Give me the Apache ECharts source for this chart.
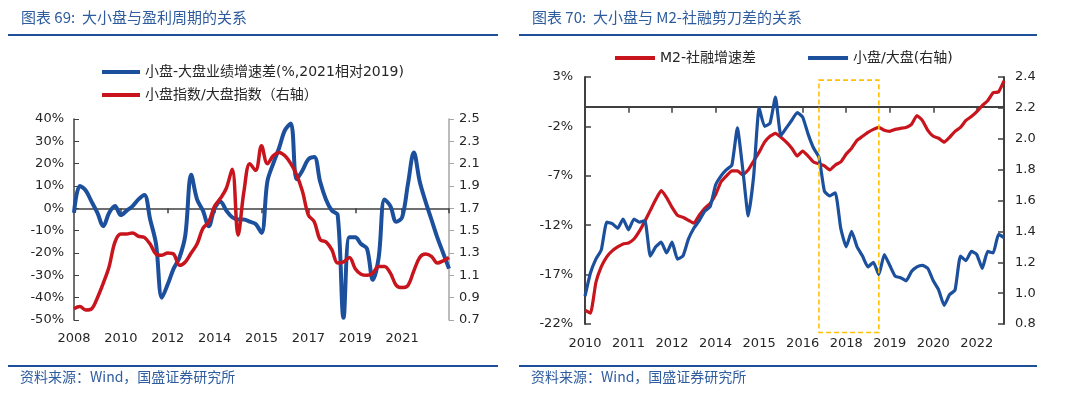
<!DOCTYPE html>
<html>
<head>
<meta charset="utf-8">
<script src="https://cdn.jsdelivr.net/npm/echarts/dist/echarts.min.js"></script>
<style>
  html, body { margin: 0; padding: 0; background: #fff; }
  #main { width: 1080px; height: 399px; }
</style>
</head>
<body>
<div id="main"></div>
<script>
// 图表69：大小盘与盈利周期
const labelsL = ['2008', '2010', '2012', '2014', '2015', '2017', '2019', '2021', ''];
const earnGap = [-2, 10, 8, 3, -2, -8, -2, 1, -3, -1,
  1, 4, 6, -5, -16, -40, -34, -27, -22, -12,
  15, 4, -1, -8, 0, 3, -1, -4, -5, -5,
  -6, -7, -11, 12, 20, 27, 35, 38, 13, 17,
  22, 23, 12, 4, -1, -3, -49, -13, -13, -16,
  -18, -32, -22, 4, 1, -6, -4, 11, 25, 12,
  3, -5, -13, -20, -27];
const smallBigL = [0.80, 0.82, 0.79, 0.80, 0.90, 1.03, 1.18, 1.40, 1.47, 1.47,
  1.48, 1.45, 1.44, 1.38, 1.29, 1.28, 1.30, 1.29, 1.19, 1.22,
  1.30, 1.38, 1.52, 1.58, 1.72, 1.79, 1.88, 2.05, 1.46, 1.85,
  2.10, 2.04, 2.26, 2.10, 2.17, 2.20, 2.17, 2.10, 2.00, 1.85,
  1.64, 1.58, 1.42, 1.40, 1.33, 1.21, 1.22, 1.26, 1.16, 1.11,
  1.10, 1.12, 1.18, 1.18, 1.12, 1.01, 0.99, 1.01, 1.14, 1.26,
  1.29, 1.27, 1.21, 1.23, 1.26];
const ticksL1 = [-50, -40, -30, -20, -10, 0, 10, 20, 30, 40];
const ticksL2 = [0.7, 0.9, 1.1, 1.3, 1.5, 1.7, 1.9, 2.1, 2.3, 2.5];

// 图表70：大小盘与M2-社融剪刀差
const labelsR = ['2010', '2011', '2012', '2014', '2015', '2016', '2018', '2019', '2020', '2022'];
const m2Gap = [-20.6, -20.9, -17.8, -16.2, -15.2, -14.6, -14.2, -13.9, -13.8, -13.4,
  -12.6, -11.6, -10.5, -9.4, -8.5, -9.2, -10.2, -11.0, -11.2, -11.5,
  -11.8, -11.0, -10.3, -9.8, -8.9, -7.6, -7.0, -6.5, -6.5, -6.9,
  -6.4, -5.5, -4.6, -3.6, -3.0, -2.7, -3.1, -3.6, -4.2, -5.0,
  -4.5, -5.0, -5.6, -5.8, -6.0, -6.4, -5.9, -5.6, -4.8, -4.2,
  -3.4, -3.0, -2.6, -2.3, -2.1, -2.4, -2.5, -2.3, -2.2, -2.1,
  -1.8, -0.9, -1.4, -2.4, -3.0, -3.2, -3.6, -3.1, -2.5, -2.1,
  -1.4, -1.0, -0.5, 0.1, 0.6, 1.4, 1.5, 2.6];
const smallBigR = [0.98, 1.13, 1.22, 1.28, 1.46, 1.45, 1.42, 1.48, 1.41, 1.48,
  1.46, 1.47, 1.24, 1.30, 1.33, 1.26, 1.33, 1.22, 1.24, 1.35,
  1.42, 1.47, 1.53, 1.56, 1.70, 1.76, 1.80, 1.83, 2.07, 1.80,
  1.50, 1.76, 2.20, 2.08, 2.10, 2.27, 2.02, 2.07, 2.12, 2.17,
  2.14, 2.03, 1.94, 1.88, 1.66, 1.63, 1.65, 1.42, 1.30, 1.40,
  1.30, 1.24, 1.17, 1.20, 1.12, 1.25, 1.18, 1.11, 1.10, 1.08,
  1.14, 1.17, 1.18, 1.16, 1.08, 1.02, 0.92, 0.99, 1.02, 1.24,
  1.21, 1.27, 1.25, 1.16, 1.27, 1.26, 1.38, 1.36];
const ticksR1 = [-22, -17, -12, -7, -2, 3];
const ticksR2 = [0.8, 1.0, 1.2, 1.4, 1.6, 1.8, 2.0, 2.2, 2.4];
// 黄框：2017-2018 区间（类目序号 / 右轴值）
const boxX = [43, 54];
const boxY = [2.38, 0.745];

const STEP = 8; // 每个年份标签之间的点数
const catsL = earnGap.map((v, i) => (i % STEP === 0 ? labelsL[i / STEP] : ''));
const catsR = m2Gap.map((v, i) => (i % STEP === 0 ? (labelsR[i / STEP] || '') : ''));

const BLUE = '#1c4f9c';
const RED = '#c8141c';
const DARK = '#404040';
const FONT = '"DejaVu Sans", "Noto Sans CJK SC", sans-serif';
const CJK = '"Noto Sans CJK SC", sans-serif';
const TXT = '#262626';
const HEAD = '#2e5c9e';
const RULE = '#1f4e9a';

const nameL1 = '小盘-大盘业绩增速差(%,2021相对2019)';
const nameL2 = '小盘指数/大盘指数（右轴）';
const nameR1 = 'M2-社融增速差';
const nameR2 = '小盘/大盘(右轴)';

const labelStyle = {color: TXT, fontSize: 13, fontFamily: FONT};

const chart = echarts.init(document.getElementById('main'));

chart.setOption({
  animation: false,
  backgroundColor: '#fff',
  textStyle: {fontFamily: FONT},
  grid: [
    {left: 74, right: 631, top: 119, bottom: 79},
    {left: 585, right: 76, top: 77, bottom: 75},
  ],
  legend: [
    {
      data: [nameL1, nameL2],
      orient: 'vertical',
      left: 97,
      top: 60,
      itemWidth: 38,
      itemHeight: 4,
      itemGap: 9,
      icon: 'rect',
      textStyle: {fontSize: 14, color: TXT, fontFamily: FONT},
    },
    {
      data: [nameR1, nameR2],
      left: 610,
      top: 46,
      itemWidth: 40,
      itemHeight: 4,
      itemGap: 52,
      icon: 'rect',
      textStyle: {fontSize: 14, color: TXT, fontFamily: FONT},
    },
  ],
  xAxis: [
    // 左图：底部年份
    {
      type: 'category', gridIndex: 0, data: catsL, boundaryGap: false,
      axisLine: {show: false, onZero: false},
      axisTick: {show: false},
      axisLabel: {interval: STEP - 1, margin: 12, ...labelStyle},
    },
    // 左图：零轴
    {
      type: 'category', gridIndex: 0, data: catsL, boundaryGap: false,
      axisLine: {onZero: true, lineStyle: {color: DARK, width: 1.5}},
      axisTick: {inside: true, length: 5, interval: STEP - 1, lineStyle: {color: DARK, width: 1.5}},
      axisLabel: {show: false},
    },
    // 右图：底部年份
    {
      type: 'category', gridIndex: 1, data: catsR, boundaryGap: false,
      axisLine: {show: false, onZero: false},
      axisTick: {show: false},
      axisLabel: {interval: STEP - 1, margin: 13, ...labelStyle},
    },
    // 右图：零轴
    {
      type: 'category', gridIndex: 1, data: catsR, boundaryGap: false,
      axisLine: {onZero: true, lineStyle: {color: DARK, width: 2}},
      axisTick: {inside: true, length: 6, interval: STEP - 1, lineStyle: {color: DARK, width: 1.5}},
      axisLabel: {show: false},
    },
  ],
  yAxis: [
    {
      type: 'value', gridIndex: 0, min: -50, max: 40,
      splitLine: {show: false},
      axisLine: {show: true, lineStyle: {color: DARK, width: 1.5}},
      axisTick: {show: true, inside: true, length: 5, customValues: ticksL1, lineStyle: {color: DARK}},
      axisLabel: {customValues: ticksL1, formatter: (v) => v + '%', margin: 10, ...labelStyle},
    },
    {
      type: 'value', gridIndex: 0, position: 'right', min: 0.7, max: 2.5,
      splitLine: {show: false},
      axisLine: {show: true, onZero: false, lineStyle: {color: '#a6a6a6', width: 1.5}},
      axisTick: {show: true, inside: false, length: 5, customValues: ticksL2, lineStyle: {color: '#a6a6a6'}},
      axisLabel: {customValues: ticksL2, formatter: (v) => v.toFixed(1), margin: 10, ...labelStyle},
    },
    {
      type: 'value', gridIndex: 1, min: -22, max: 3,
      splitLine: {show: false},
      axisLine: {show: true, lineStyle: {color: DARK, width: 2}},
      axisTick: {show: true, inside: true, length: 6, customValues: ticksR1, lineStyle: {color: DARK, width: 1.5}},
      axisLabel: {customValues: ticksR1, formatter: (v) => v + '%', margin: 12, ...labelStyle},
    },
    {
      type: 'value', gridIndex: 1, position: 'right', min: 0.8, max: 2.4,
      splitLine: {show: false},
      axisLine: {show: true, onZero: false, lineStyle: {color: DARK, width: 2}},
      axisTick: {show: true, inside: true, length: 6, customValues: ticksR2, lineStyle: {color: DARK, width: 1.5}},
      axisLabel: {customValues: ticksR2, formatter: (v) => v.toFixed(1), margin: 11, ...labelStyle},
    },
  ],
  series: [
    {
      name: nameL1, type: 'line', xAxisIndex: 0, yAxisIndex: 0,
      data: earnGap, showSymbol: false, symbol: 'none', smooth: 0.35,
      itemStyle: {color: BLUE}, lineStyle: {color: BLUE, width: 4},
    },
    {
      name: nameL2, type: 'line', xAxisIndex: 0, yAxisIndex: 1,
      data: smallBigL, showSymbol: false, symbol: 'none', smooth: 0.35,
      itemStyle: {color: RED}, lineStyle: {color: RED, width: 3.5},
    },
    {
      name: nameR1, type: 'line', xAxisIndex: 2, yAxisIndex: 2,
      data: m2Gap, showSymbol: false, symbol: 'none', smooth: 0.15,
      itemStyle: {color: RED}, lineStyle: {color: RED, width: 3.2},
    },
    {
      name: nameR2, type: 'line', xAxisIndex: 2, yAxisIndex: 3,
      data: smallBigR, showSymbol: false, symbol: 'none', smooth: 0.15,
      itemStyle: {color: BLUE}, lineStyle: {color: BLUE, width: 3.2},
    },
  ],
  graphic: {
    elements: [
      {id: 't1', type: 'text', left: 21, top: 10, style: {text: '图表 69:  大小盘与盈利周期的关系', fill: HEAD, font: '15px ' + CJK}},
      {id: 't2', type: 'text', left: 532, top: 10, style: {text: '图表 70:  大小盘与 M2-社融剪刀差的关系', fill: HEAD, font: '15px ' + CJK}},
      {id: 'r1', type: 'line', shape: {x1: 8, y1: 35, x2: 498, y2: 35}, style: {stroke: RULE, lineWidth: 2}},
      {id: 'r2', type: 'line', shape: {x1: 519, y1: 35, x2: 1037, y2: 35}, style: {stroke: RULE, lineWidth: 2}},
      {id: 'r3', type: 'line', shape: {x1: 8, y1: 366, x2: 498, y2: 366}, style: {stroke: RULE, lineWidth: 2}},
      {id: 'r4', type: 'line', shape: {x1: 519, y1: 366, x2: 1037, y2: 366}, style: {stroke: RULE, lineWidth: 2}},
      {id: 's1', type: 'text', left: 20, top: 370, style: {text: '资料来源：Wind，国盛证券研究所', fill: HEAD, font: '14px ' + CJK}},
      {id: 's2', type: 'text', left: 531, top: 370, style: {text: '资料来源：Wind，国盛证券研究所', fill: HEAD, font: '14px ' + CJK}},
    ],
  },
});

// 黄色虚线框：用坐标轴把区间换算成像素（框下沿超出绘图区）
const finder = {xAxisIndex: 2, yAxisIndex: 3};
const p0 = chart.convertToPixel(finder, [boxX[0], boxY[0]]);
const p1 = chart.convertToPixel(finder, [boxX[1], boxY[1]]);
chart.setOption({
  graphic: {
    elements: [{
      id: 'box', type: 'rect', z: 10, silent: true,
      shape: {x: p0[0], y: p0[1], width: p1[0] - p0[0], height: p1[1] - p0[1]},
      style: {fill: 'none', stroke: '#ffc000', lineWidth: 1.6, lineDash: [5, 3]},
    }],
  },
});
</script>
</body>
</html>
